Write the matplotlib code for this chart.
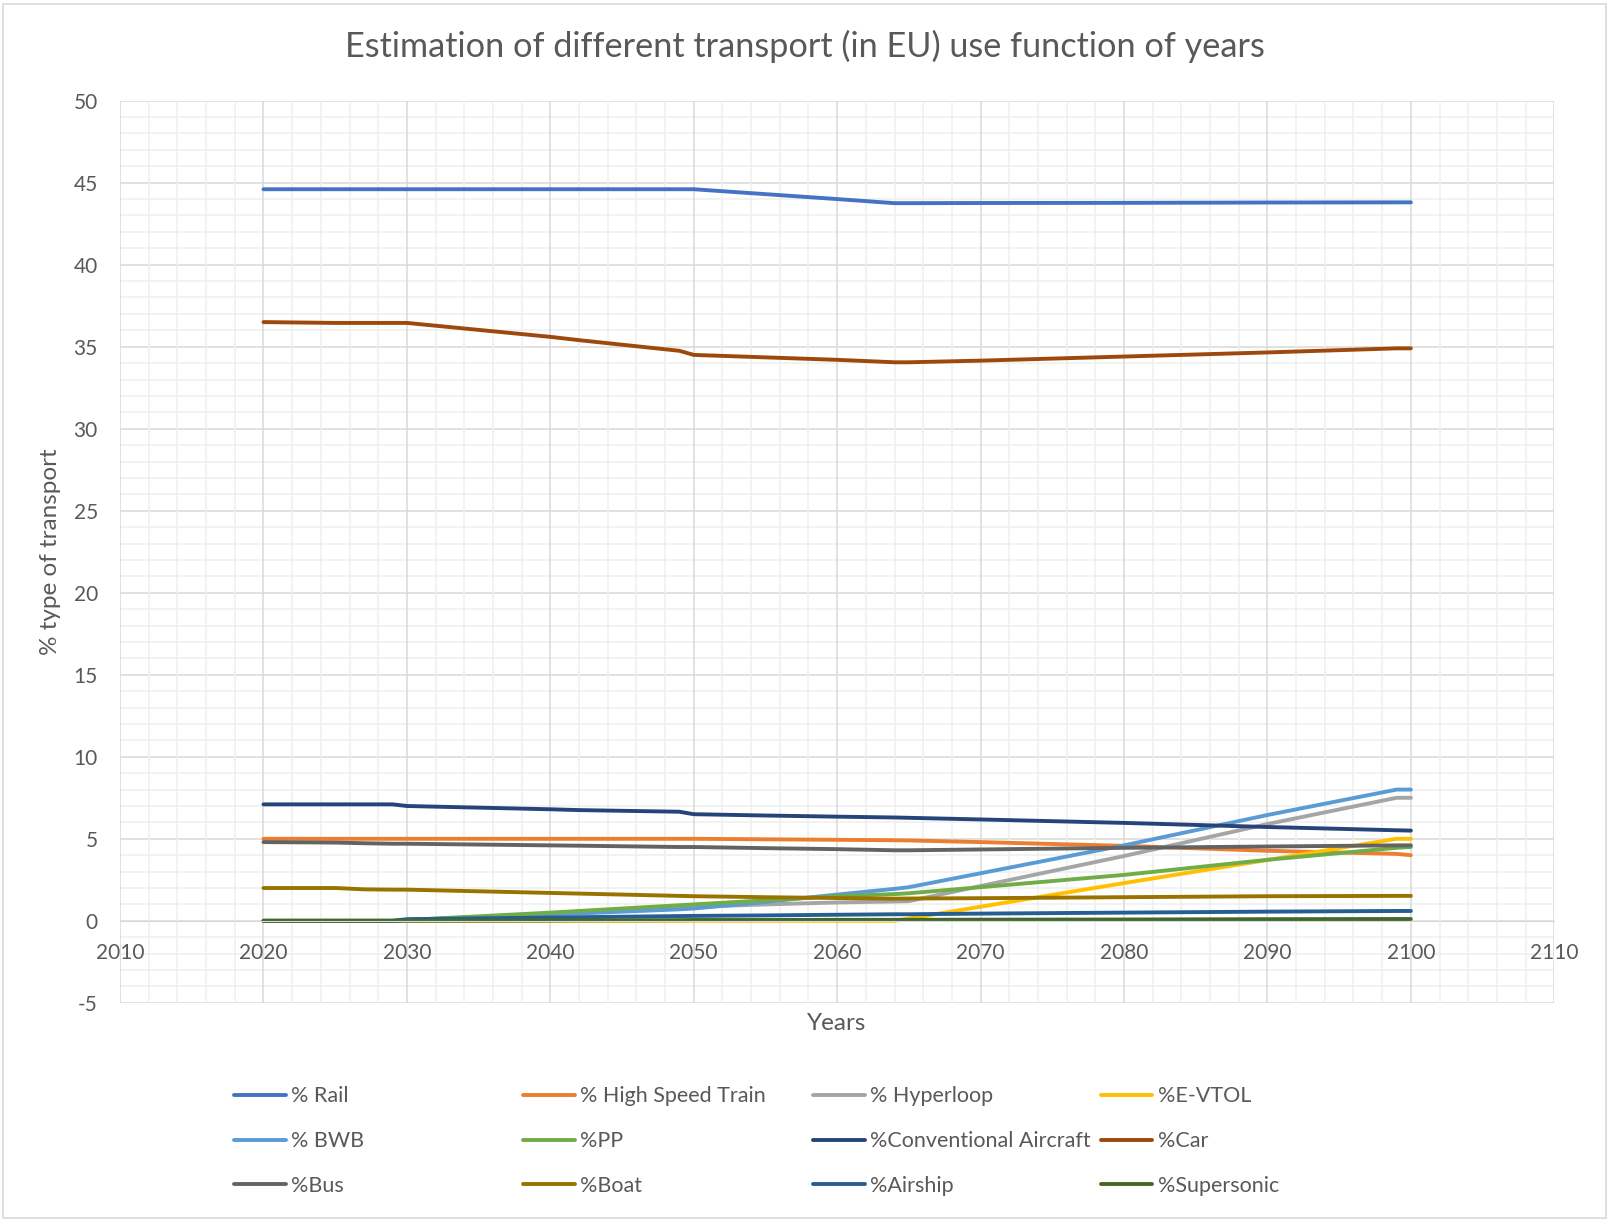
import matplotlib
matplotlib.use("Agg")
import matplotlib.pyplot as plt
from matplotlib.ticker import MultipleLocator
from matplotlib.patches import Rectangle

plt.rcParams["font.family"] = ["Lato", "DejaVu Sans"]
plt.rcParams["axes.unicode_minus"] = False

# values (% share per transport mode)
YEARS = [2020, 2025, 2027, 2029, 2030, 2040, 2042, 2049, 2050, 2055, 2060,
         2064, 2065, 2070, 2080, 2090, 2099, 2100]

rail = [44.6, 44.6, 44.6, 44.6, 44.6, 44.6, 44.6, 44.6, 44.6, 44.3, 44.0,
        43.75, 43.75, 43.76, 43.77, 43.79, 43.8, 43.8]
high_speed = [5.0, 5.0, 5.0, 5.0, 5.0, 5.0, 5.0, 5.0, 5.0, 4.97, 4.94,
              4.91, 4.9, 4.8, 4.57, 4.27, 4.08, 4.0]
hyperloop = [0, 0, 0, 0, 0.03, 0.4, 0.5, 0.8, 0.85, 1.0, 1.12,
             1.18, 1.2, 2.12, 3.95, 5.9, 7.5, 7.5]
evtol = [0, 0, 0, 0, 0, 0, 0, 0, 0, 0, 0,
         0, 0.14, 0.86, 2.3, 3.71, 5.0, 5.0]
bwb = [0, 0, 0, 0, 0.05, 0.4, 0.45, 0.7, 0.75, 1.15, 1.6,
       1.95, 2.05, 2.9, 4.6, 6.45, 8.0, 8.0]
pp = [0, 0, 0, 0, 0.05, 0.5, 0.6, 0.95, 1.0, 1.25, 1.5,
      1.63, 1.68, 2.05, 2.8, 3.72, 4.45, 4.5]
conv_aircraft = [7.1, 7.1, 7.1, 7.1, 7.0, 6.8, 6.75, 6.65, 6.5, 6.42, 6.35,
                 6.3, 6.28, 6.18, 5.97, 5.72, 5.52, 5.5]
car = [36.5, 36.45, 36.45, 36.45, 36.45, 35.6, 35.4, 34.75, 34.5, 34.35, 34.2,
       34.05, 34.05, 34.15, 34.4, 34.65, 34.9, 34.9]
bus = [4.8, 4.77, 4.73, 4.7, 4.7, 4.6, 4.58, 4.5, 4.5, 4.43, 4.37,
       4.3, 4.3, 4.35, 4.45, 4.53, 4.6, 4.6]
boat = [2.0, 2.0, 1.92, 1.9, 1.9, 1.7, 1.66, 1.52, 1.5, 1.44, 1.39,
        1.35, 1.36, 1.38, 1.44, 1.5, 1.52, 1.52]
airship = [0, 0, 0, 0, 0.1, 0.2, 0.22, 0.29, 0.3, 0.33, 0.37,
           0.4, 0.4, 0.44, 0.5, 0.56, 0.6, 0.6]
supersonic = [0, 0, 0, 0, 0, 0.02, 0.03, 0.04, 0.05, 0.05, 0.06,
              0.06, 0.06, 0.07, 0.08, 0.1, 0.11, 0.11]

SERIES = [
    ("% Rail", rail, "#4472C4"),
    ("% High Speed Train", high_speed, "#ED7D31"),
    ("% Hyperloop", hyperloop, "#A5A5A5"),
    ("%E-VTOL", evtol, "#FFC000"),
    ("% BWB", bwb, "#5B9BD5"),
    ("%PP", pp, "#70AD47"),
    ("%Conventional Aircraft", conv_aircraft, "#264478"),
    ("%Car", car, "#9E480E"),
    ("%Bus", bus, "#636363"),
    ("%Boat", boat, "#997300"),
    ("%Airship", airship, "#255E91"),
    ("%Supersonic", supersonic, "#43682B"),
]

TEXT = "#595959"

fig = plt.figure(figsize=(16.09, 12.2), dpi=100)
ax = fig.add_axes([0.0746, 0.178, 0.8914, 0.7395])

handles = []
for label, vals, color in SERIES:
    (h,) = ax.plot(YEARS, vals, color=color, lw=2.8, label=label,
                   solid_joinstyle="round", solid_capstyle="round")
    handles.append(h)

ax.set_xlim(2010, 2110)
ax.set_ylim(-5, 50)
ax.xaxis.set_major_locator(MultipleLocator(10))
ax.xaxis.set_minor_locator(MultipleLocator(2))
ax.yaxis.set_major_locator(MultipleLocator(5))
ax.yaxis.set_minor_locator(MultipleLocator(1))
ax.grid(which="major", color="#D9D9D9", lw=1.1)
ax.grid(which="minor", color="#EFEFEF", lw=1.1)
ax.set_axisbelow(True)
# x axis (and its year labels) drawn after the horizontal gridlines
ax.yaxis.set_zorder(0.5)
ax.xaxis.set_zorder(0.6)

for side in ["top", "right", "left"]:
    ax.spines[side].set_visible(False)
ax.spines["bottom"].set_position(("data", 0))
ax.spines["bottom"].set_color("#D9D9D9")
ax.tick_params(which="both", length=0)
ax.tick_params(axis="x", pad=16, labelsize=15, labelcolor=TEXT)
ax.tick_params(axis="y", pad=16, labelsize=15, labelcolor=TEXT)

ax.text(0.5, -0.023, "Years", transform=ax.transAxes, ha="center", va="center",
        fontsize=17.5, color=TEXT)
ax.set_ylabel("% type of transport", fontsize=17.5, color=TEXT)
ax.yaxis.set_label_coords(-0.041, 0.5)

fig.text(0.5, 0.962, "Estimation of different transport (in EU) use function of years",
         ha="center", va="center", fontsize=24.7, color=TEXT)

# Excel-style legend: 4 columns, filled row by row
col_x = [0.1454, 0.325, 0.5053, 0.684]
for c in range(4):
    col = handles[c::4]
    fig.legend(col, [h.get_label() for h in col], loc="upper left",
               bbox_to_anchor=(col_x[c], 0.1095), frameon=False, fontsize=15.5,
               handlelength=2.4, handletextpad=0.25, labelspacing=1.15,
               borderpad=0, borderaxespad=0, labelcolor=TEXT)

fig.add_artist(Rectangle((0.002, 0.002), 0.996, 0.995, transform=fig.transFigure,
                         fill=False, edgecolor="#D9D9D9", lw=1.2))

fig.savefig("out.png", dpi=100)
